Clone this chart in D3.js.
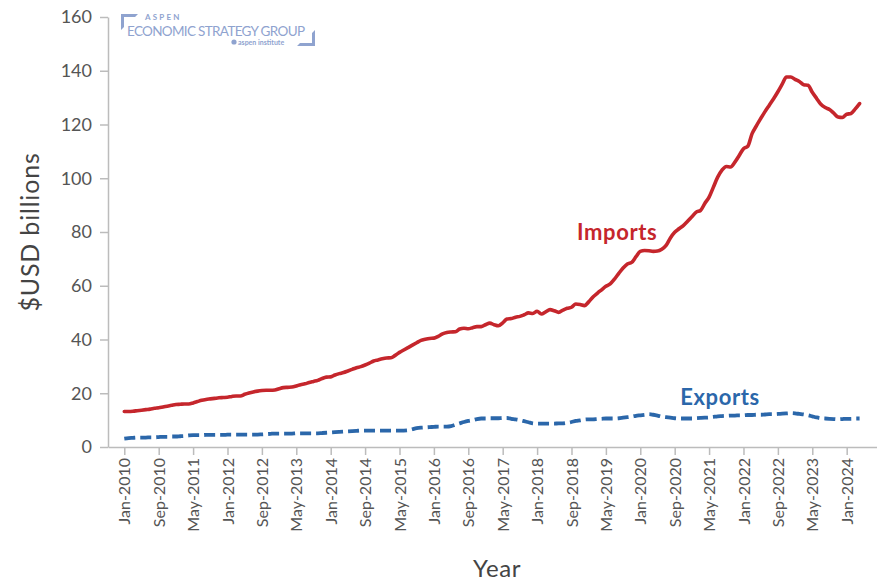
<!DOCTYPE html>
<html>
<head>
<meta charset="utf-8">
<script src="https://cdn.jsdelivr.net/npm/d3@7/dist/d3.min.js"></script>
<style>
  html, body { margin: 0; padding: 0; background: #ffffff; }
  svg { display: block; font-family: Lato, "Open Sans", sans-serif; }
</style>
</head>
<body>
<svg id="chart" width="877" height="583"></svg>
<script>
// Monthly trade values in $USD billions, Jan-2010 through Apr-2024
const startYear = 2010;
const imports = [
  13.2, 13.2, 13.3, 13.5, 13.7, 13.9, 14.1, 14.4, 14.6, 14.9, 15.2, 15.5,
  15.8, 15.9, 16.0, 16.0, 16.4, 16.9, 17.4, 17.7, 17.9, 18.1, 18.3, 18.4,
  18.5, 18.8, 19.0, 19.0, 19.6, 20.1, 20.5, 20.8, 21.0, 21.1, 21.1, 21.2,
  21.7, 22.1, 22.2, 22.3, 22.7, 23.2, 23.5, 24.0, 24.4, 24.8, 25.5, 26.0,
  26.1, 26.8, 27.3, 27.7, 28.3, 28.9, 29.5, 29.9, 30.5, 31.2, 32.0, 32.4,
  32.8, 33.1, 33.2, 34.1, 35.2, 36.1, 37.0, 37.9, 38.8, 39.7, 40.1, 40.4,
  40.5, 41.2, 42.1, 42.6, 42.8, 42.9, 43.9, 44.2, 44.0, 44.4, 44.8, 44.8,
  45.5, 46.1, 45.5, 45.1, 46.2, 47.6, 47.8, 48.3, 48.6, 49.2, 49.9, 49.7,
  50.5, 49.5, 50.3, 51.1, 50.7, 50.1, 50.9, 51.6, 52.0, 53.2, 53.0, 52.6,
  54.0, 55.8, 57.2, 58.5, 59.8, 60.7, 62.5, 64.6, 66.6, 68.1, 68.7, 70.8,
  72.8, 73.1, 73.0, 72.8, 72.9, 73.6, 75.0, 77.8, 79.9, 81.2, 82.4, 84.0,
  85.7, 87.4, 88.0, 90.6, 93.0, 96.7, 100.4, 103.0, 104.4, 104.2, 106.0, 108.5,
  111.0, 111.9, 116.6, 119.5, 122.2, 124.8, 127.2, 129.6, 132.2, 135.0, 137.7, 137.7,
  136.8, 136.0, 134.8, 134.6, 132.0, 129.7, 127.5, 126.3, 125.6, 124.2, 122.8, 122.6,
  123.8, 124.1, 125.8, 127.8
];
const exports = [
  3.1, 3.3, 3.4, 3.5, 3.5, 3.5, 3.6, 3.6, 3.7, 3.8, 3.8, 3.9,
  3.9, 4.0, 4.1, 4.3, 4.4, 4.4, 4.4, 4.5, 4.5, 4.5, 4.5, 4.5,
  4.6, 4.6, 4.6, 4.6, 4.6, 4.6, 4.6, 4.6, 4.7, 4.8, 4.9, 5.0,
  5.0, 5.0, 5.0, 5.0, 5.1, 5.1, 5.1, 5.1, 5.1, 5.1, 5.2, 5.3,
  5.4, 5.5, 5.6, 5.7, 5.8, 5.9, 6.0, 6.1, 6.1, 6.1, 6.1, 6.1,
  6.1, 6.1, 6.1, 6.1, 6.1, 6.1, 6.2, 6.6, 7.0, 7.2, 7.3, 7.4,
  7.5, 7.6, 7.6, 7.6, 7.8, 8.3, 8.8, 9.3, 9.7, 10.0, 10.4, 10.6,
  10.6, 10.7, 10.7, 10.7, 10.8, 10.8, 10.5, 10.3, 10.0, 9.6, 9.2, 8.8,
  8.7, 8.7, 8.7, 8.7, 8.7, 8.8, 8.8, 9.0, 9.3, 9.7, 9.9, 10.2,
  10.3, 10.3, 10.4, 10.5, 10.6, 10.6, 10.6, 10.7, 10.9, 11.1, 11.3, 11.6,
  11.8, 12.0, 12.2, 12.0, 11.7, 11.3, 11.1, 10.9, 10.7, 10.6, 10.6, 10.6,
  10.6, 10.7, 10.8, 10.9, 11.0, 11.2, 11.4, 11.5, 11.6, 11.7, 11.7, 11.8,
  11.8, 11.9, 11.9, 12.0, 12.0, 12.1, 12.2, 12.2, 12.3, 12.4, 12.5, 12.6,
  12.5, 12.3, 12.1, 11.8, 11.4, 11.0, 10.7, 10.6, 10.5, 10.4, 10.3, 10.4,
  10.5, 10.5, 10.6, 10.6
];
// Tick labels on the time axis, one every eight months
const xTickLabels = [
  "Jan-2010", "Sep-2010", "May-2011", "Jan-2012", "Sep-2012", "May-2013",
  "Jan-2014", "Sep-2014", "May-2015", "Jan-2016", "Sep-2016", "May-2017",
  "Jan-2018", "Sep-2018", "May-2019", "Jan-2020", "Sep-2020", "May-2021",
  "Jan-2022", "Sep-2022", "May-2023", "Jan-2024"
];
const xTickMonths = xTickLabels.map((d, i) => i * 8);
const yTicks = [0, 20, 40, 60, 80, 100, 120, 140, 160];
const seriesNames = ["Imports", "Exports"];

const svg = d3.select("#chart");
const margin = { top: 17, left: 108 };
const innerW = 877 - margin.left;
const innerH = 430;

const g = svg.append("g").attr("transform", `translate(${margin.left},${margin.top})`);

// month index -> pixel; axis extends a few months past both ends of the data
const x = d3.scaleLinear().domain([-3.79, 175.05]).range([0, innerW]);
const y = d3.scaleLinear().domain([0, 160]).range([innerH, 0]);

const axisColor = "#bcbcbc";
const tickTextColor = "#555555";

// Y axis
const yAxis = g.append("g")
  .call(d3.axisLeft(y).tickValues(yTicks).tickSize(8).tickPadding(8).tickSizeOuter(0));
yAxis.select(".domain").attr("stroke", axisColor).attr("stroke-width", 1.5);
yAxis.selectAll(".tick line").attr("stroke", axisColor).attr("stroke-width", 1.5);
yAxis.selectAll(".tick text")
  .attr("fill", tickTextColor).style("font-size", "18px").style("font-family", "Lato, sans-serif");

// X axis
const xAxis = g.append("g")
  .attr("transform", `translate(0,${innerH})`)
  .call(d3.axisBottom(x).tickValues(xTickMonths)
    .tickFormat((d, i) => xTickLabels[i]).tickSize(8).tickSizeOuter(0));
xAxis.select(".domain").attr("stroke", axisColor).attr("stroke-width", 1.5);
xAxis.selectAll(".tick line").attr("stroke", axisColor).attr("stroke-width", 1.5);
xAxis.selectAll(".tick text")
  .attr("fill", tickTextColor)
  .style("font-size", "16px").style("font-family", "Lato, sans-serif")
  .attr("transform", "rotate(-90)")
  .attr("text-anchor", "end")
  .attr("dy", "0.35em")
  .attr("x", -11)
  .attr("y", 0);

// Series lines
const line = d3.line()
  .x((d, i) => x(i))
  .y(d => y(d))
  .curve(d3.curveMonotoneX);

g.append("path")
  .datum(imports)
  .attr("fill", "none")
  .attr("stroke", "#c5262c")
  .attr("stroke-width", 3.6)
  .attr("stroke-linejoin", "round")
  .attr("stroke-linecap", "round")
  .attr("d", line);

g.append("path")
  .datum(exports)
  .attr("fill", "none")
  .attr("stroke", "#2b67aa")
  .attr("stroke-width", 3.8)
  .attr("stroke-dasharray", "11,5")
  .attr("d", line);

// Direct series labels
g.append("text")
  .attr("x", x(105.3)).attr("y", y(77))
  .attr("fill", "#c5262c")
  .style("font-size", "22px").style("font-weight", 700).style("letter-spacing", "0.6px")
  .text(seriesNames[0]);

g.append("text")
  .attr("x", x(129.3)).attr("y", y(15.7))
  .attr("fill", "#2b67aa")
  .style("font-size", "22px").style("font-weight", 700).style("letter-spacing", "0.6px")
  .text(seriesNames[1]);

// Axis titles
svg.append("text")
  .attr("transform", "translate(39,232) rotate(-90)")
  .attr("text-anchor", "middle")
  .attr("fill", "#444444")
  .style("font-size", "25px").style("letter-spacing", "0.8px")
  .text("$USD billions");

svg.append("text")
  .attr("x", 497).attr("y", 577)
  .attr("text-anchor", "middle")
  .attr("fill", "#444444")
  .style("font-size", "24px").style("letter-spacing", "0.6px")
  .text("Year");

// Organisation mark, top left of the plot
const logo = svg.append("g").attr("transform", "translate(121,14)");
const logoColor = "#8fa3cf";
logo.append("path")
  .attr("d", "M0,16 V0 H17 L14,3 H3 V13 Z")
  .attr("fill", logoColor);
logo.append("path")
  .attr("d", "M194,16 V32 H176 L179,29 H191 V19 Z")
  .attr("fill", logoColor);
logo.append("text")
  .attr("x", 24).attr("y", 6)
  .attr("fill", logoColor)
  .style("font-size", "8px").style("font-weight", 700).style("letter-spacing", "2.2px")
  .text("ASPEN");
logo.append("text")
  .attr("x", 6).attr("y", 22)
  .attr("fill", logoColor)
  .style("font-size", "13.5px").style("font-weight", 400)
  .attr("textLength", 178)
  .text("ECONOMIC STRATEGY GROUP");
logo.append("circle")
  .attr("cx", 113).attr("cy", 28).attr("r", 2.6)
  .attr("fill", logoColor);
logo.append("text")
  .attr("x", 117).attr("y", 30.5)
  .attr("fill", logoColor)
  .style("font-size", "7px").style("font-weight", 700)
  .text("aspen institute");
</script>
</body>
</html>
